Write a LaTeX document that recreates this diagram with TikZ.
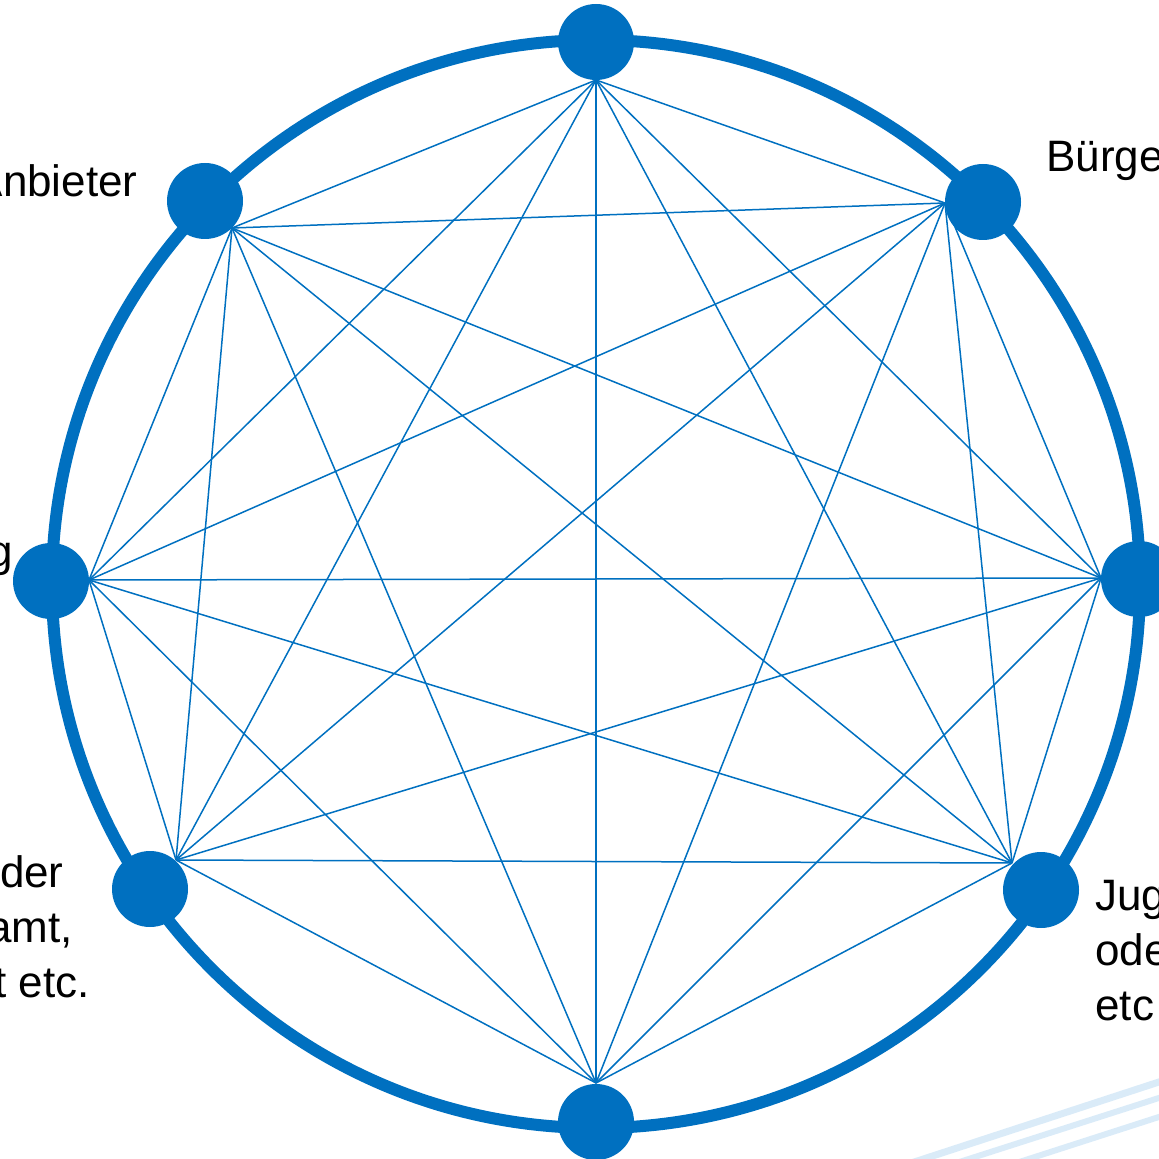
\documentclass[tikz,border=0pt]{standalone}
\usepackage{fontspec}
\setmainfont{Liberation Sans}
\definecolor{netzblau}{RGB}{0,112,192}
\definecolor{hellblau}{RGB}{218,235,248}

\begin{document}
\begin{tikzpicture}[x=0.5pt,y=-0.5pt,
		punkt/.style={circle,fill=netzblau,minimum size=38pt,inner sep=0pt},
		kante/.style={netzblau,line width=0.75pt},
		beschrift/.style={font=\fontsize{22}{27.5}\selectfont,inner sep=0pt}]
		\useasboundingbox (0,0) rectangle (1158,1159);

		% helle Streifen unten rechts
		\draw[hellblau,line width=3.5pt] (905,1165) -- (1165,1080);
		\draw[hellblau,line width=3pt] (950,1165) -- (1165,1096);
		\draw[hellblau,line width=3pt] (1010,1165) -- (1165,1115);

		% Kreis
		\draw[netzblau,line width=6pt] (596,584) circle[radius=272pt];

		% Ansatzpunkte der Verbindungen
		\coordinate (hn) at (596,80);
		\coordinate (hne) at (945,203);
		\coordinate (he) at (1101,578);
		\coordinate (hse) at (1012,863);
		\coordinate (hs) at (596,1083);
		\coordinate (hsw) at (176,860);
		\coordinate (hw) at (89,580);
		\coordinate (hnw) at (232,228);

		% jeder mit jedem
		\foreach \a [count=\i] in {hn,hne,he,hse,hs,hsw,hw,hnw} {
			\foreach \b [count=\j] in {hn,hne,he,hse,hs,hsw,hw,hnw} {
				\ifnum\j>\i
					\draw[kante] (\a) -- (\b);
				\fi
			}
		}

		% Punkte
		\node[punkt] (n) at (596,42) {};
		\node[punkt] (ne) at (983,202) {};
		\node[punkt] (e) at (1139,579) {};
		\node[punkt] (se) at (1041,890) {};
		\node[punkt] (s) at (596,1122) {};
		\node[punkt] (sw) at (150,889) {};
		\node[punkt] (w) at (51,581) {};
		\node[punkt] (nw) at (205,201) {};

		% Beschriftungen
		\node[beschrift,anchor=base east] (anbieter) at (138,197) {Anbieter};
		\node[beschrift,anchor=base west] (buerger) at (1046,172) {Bürge};
		\node[beschrift,anchor=base east] (links) at (13,566) {g};
		\node[beschrift,anchor=base east] (sw1) at (64,887) {der};
		\node[beschrift,anchor=base east] (sw2) at (73,942) {amt,};
		\node[beschrift,anchor=base east] (sw3) at (90,997) {t etc.};
		\node[beschrift,anchor=base west] (se1) at (1095,910) {Jug};
		\node[beschrift,anchor=base west] (se2) at (1095,965) {ode};
		\node[beschrift,anchor=base west] (se3) at (1095,1020) {etc};
	\end{tikzpicture}
\end{document}
